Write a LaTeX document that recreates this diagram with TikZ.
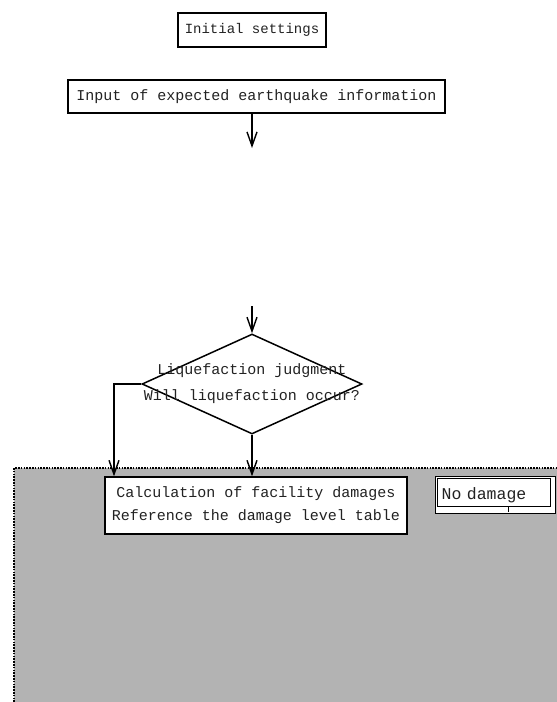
\documentclass[tikz,border=0pt]{standalone}
\usepackage{fontspec}
\setmonofont{Liberation Mono}
\usetikzlibrary{arrows.meta,shapes.geometric}

\definecolor{greyfill}{HTML}{B3B3B3}
\definecolor{ink}{HTML}{222222}

\tikzset{
	box/.style={draw,line width=1.3pt,fill=white,inner sep=0pt,text=ink,
		font=\ttfamily\fontsize{15}{23}\selectfont},
	txt/.style={inner sep=0pt,text=ink,font=\ttfamily\fontsize{15}{26}\selectfont},
	arr/.style={line width=1.4pt,-{Straight Barb[length=14pt,width=10pt,line width=1.4pt]}},
	border/.style={line width=2.4pt,dash pattern=on 1.6pt off 1.2pt}
}

\begin{document}
\begin{tikzpicture}[x=1pt,y=-1pt]
		\useasboundingbox (0,0) rectangle (557,702);
		% shaded area
		\fill[greyfill] (14,468) rectangle (557,702);
		\draw[border] (14,702) -- (14,468) -- (557,468);

		\node[box,minimum width=148pt,minimum height=34pt,
			font=\ttfamily\fontsize{14}{20}\selectfont] (init) at (252,30) {Initial settings};
		\node[box,minimum width=377pt,minimum height=33pt] (input) at (256.5,96.5)
			{Input of expected earthquake information};

		\coordinate (endA) at (252,148);
		\coordinate (startB) at (252,306);

		\node[diamond,draw,line width=1.5pt,minimum width=220pt,minimum height=100pt,
			inner sep=0pt] (judge) at (252,384) {};
		\node[txt,align=center] (judgetxt) at (judge) {Liquefaction judgment\\Will liquefaction occur?};

		\node[box,minimum width=302pt,minimum height=57pt,align=center] (calc) at (256,505.5)
			{Calculation of facility damages\\Reference the damage level table};

		\node[box,anchor=north west,minimum width=120pt,minimum height=37pt,
			text width=108pt,inner xsep=6pt,align=left,
			font=\ttfamily\fontsize{16.5}{20}\selectfont] (nodmg) at (435,476) {No damage};
		\draw[line width=1pt] (437,478) rectangle (550,506);
		\draw[line width=0.7pt] (508,506) -- (508,512);

		\coordinate (lturn) at (114,384);

		\draw[arr] (input.south -| endA) -- (endA);
		\draw[arr] (startB) -- (judge.north);
		\draw[arr] (judge.south) -- (judge.south |- calc.north);
		\draw[arr] (judge.west) -- (lturn) -- (lturn |- calc.north);
	\end{tikzpicture}
\end{document}
